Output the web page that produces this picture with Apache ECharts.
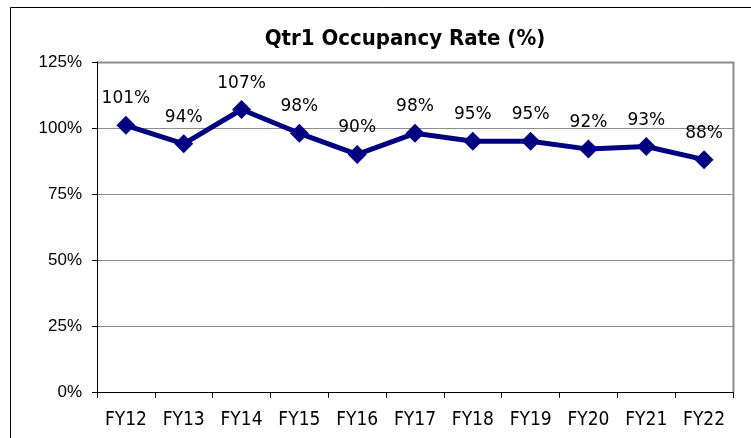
<html>
<head>
    <title>Qtr1 Occupancy Rate</title>
    <style>
        * { margin: 0; padding: 0; }
        #chart-container { width: 751px; height: 438px; background: #fff; }
    </style>
</head>
<body>
<div id="chart-container"></div>
<script src="https://cdn.jsdelivr.net/npm/echarts@6/dist/echarts.min.js"></script>
<script>
    const years = ['FY12', 'FY13', 'FY14', 'FY15', 'FY16', 'FY17', 'FY18', 'FY19', 'FY20', 'FY21', 'FY22'];
    const occupancy = [101, 94, 107, 98, 90, 98, 95, 95, 92, 93, 88];

    const narrow = '"DejaVu Sans Condensed", "Liberation Sans Narrow", sans-serif';

    var myChart = echarts.init(document.getElementById('chart-container'), null, { renderer: 'canvas' });

    var option = {
        animation: false,
        title: {
            text: 'Qtr1 Occupancy Rate (%)',
            left: 400,
            textAlign: 'center',
            top: 13,
            textStyle: { fontFamily: narrow, fontSize: 22, fontWeight: 'bold', color: '#000' }
        },
        graphic: [{
            type: 'rect',
            shape: { x: 10.5, y: 7.5, width: 800, height: 500 },
            style: { fill: null, stroke: '#000', lineWidth: 1 },
            silent: true
        }, {
            // grey border of the plot area on top and right
            type: 'polyline',
            shape: { points: [[97, 62.5], [733.5, 62.5], [733.5, 392]] },
            style: { fill: null, stroke: '#8c8c8c', lineWidth: 2 },
            silent: true
        }],
        grid: { left: 97, top: 62, right: 18, bottom: 46 },
        xAxis: {
            type: 'category',
            data: years,
            boundaryGap: true,
            axisLine: { lineStyle: { color: '#000', width: 1 } },
            axisTick: { show: true, length: 6, lineStyle: { color: '#000' } },
            axisLabel: { fontFamily: narrow, fontSize: 19, color: '#000', margin: 11 }
        },
        yAxis: {
            type: 'value',
            min: 0,
            max: 125,
            interval: 25,
            axisLine: { show: true, lineStyle: { color: '#000', width: 1 } },
            axisTick: { show: true, length: 5, lineStyle: { color: '#000' } },
            axisLabel: { fontFamily: '"Liberation Sans", Arial, sans-serif', fontSize: 17, color: '#000', margin: 15, formatter: '{value}%' },
            splitLine: { lineStyle: { color: '#8c8c8c', width: 1 } }
        },
        series: [{
            type: 'line',
            data: occupancy,
            symbol: 'diamond',
            symbolSize: 19,
            lineStyle: { color: '#000080', width: 5 },
            itemStyle: { color: '#000080' },
            label: {
                show: true,
                position: 'top',
                distance: 0,
                formatter: '{c}%',
                fontFamily: '"DejaVu Sans", Verdana, sans-serif',
                fontSize: 17,
                color: '#000'
            }
        }]
    };

    myChart.setOption(option);
    window.addEventListener('resize', myChart.resize);
</script>
</body>
</html>
